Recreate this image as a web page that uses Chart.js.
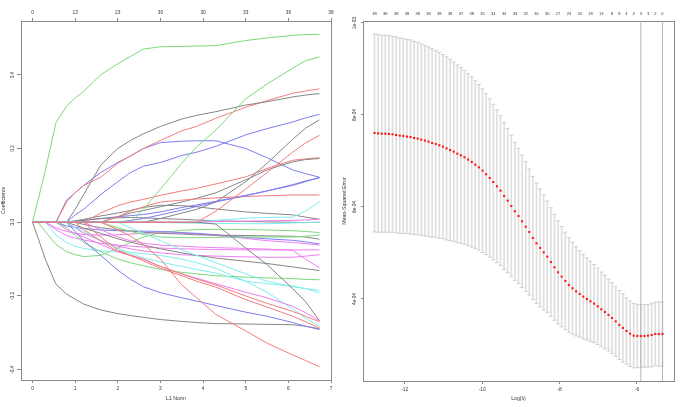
<!DOCTYPE html>
<html><head><meta charset="utf-8">
<script src="https://cdn.jsdelivr.net/npm/chart.js@4/dist/chart.umd.min.js"></script>
<style>
html,body{margin:0;padding:0;background:#fff;}
#wrap{position:relative;width:685px;height:407px;overflow:hidden;}
#c1{position:absolute;left:0;top:0;}
#c2{position:absolute;left:340px;top:0;}
</style></head><body>
<div id="wrap"><canvas id="c1" width="340" height="407"></canvas><canvas id="c2" width="345" height="407"></canvas></div>
<script>
// ---------- LEFT PANEL DATA: coefficient paths vs L1 norm ----------
const l1Norm = [0, 0.13, 0.3, 0.55, 0.8, 1.0, 1.2, 1.6, 2.0, 2.3, 2.6, 3.0, 3.5, 3.85, 4.3, 5.0, 5.5, 6.1, 6.4, 6.73];
const l1Ticks = [0, 1, 2, 3, 4, 5, 6, 7];
const dfTopLabels = ['0', '13', '23', '30', '30', '33', '36', '38'];
const coefTickValues = [-0.4, -0.2, 0, 0.2, 0.4];
const coefTickLabels = ['-0.4', '-0.2', '0.0', '0.2', '0.4'];
const pathColors = ['g','k','g','c','m','m','b','r','b','m','g','k','b','b','k','m','k','c','b','k','r','k','r','m','r','k','g','r','r','b','c','g','k','c','c','m','k','r'];
const coefPaths = [
 [0, 0.06, 0.14, 0.27, 0.315, 0.337, 0.355, 0.40, 0.43, 0.45, 0.47, 0.476, 0.477, 0.478, 0.479, 0.493, 0.50, 0.507, 0.509, 0.51],
 [0, -0.042, -0.1, -0.168, -0.195, -0.209, -0.222, -0.238, -0.248, -0.253, -0.258, -0.264, -0.269, -0.272, -0.275, -0.276, -0.277, -0.278, -0.282, -0.289],
 [0, 0, -0.025, -0.06, -0.08, -0.088, -0.093, -0.09, -0.07, -0.055, -0.04, -0.028, -0.022, -0.02, -0.019, -0.02, -0.021, -0.023, -0.025, -0.028],
 [0, 0, 0, -0.035, -0.055, -0.065, -0.071, -0.078, -0.079, -0.081, -0.085, -0.09, -0.1, -0.11, -0.125, -0.16, -0.19, -0.235, -0.26, -0.282],
 [0, 0, 0, -0.02, -0.036, -0.043, -0.048, -0.057, -0.062, -0.065, -0.067, -0.07, -0.072, -0.073, -0.074, -0.075, -0.075, -0.075, -0.075, -0.075],
 [0, 0, 0, -0.015, -0.025, -0.03, -0.033, -0.035, -0.034, -0.032, -0.03, -0.029, -0.03, -0.032, -0.036, -0.044, -0.05, -0.055, -0.058, -0.062],
 [0, 0, 0, 0, 0.06, 0.08, 0.1, 0.135, 0.162, 0.18, 0.2, 0.216, 0.22, 0.221, 0.221, 0.2, 0.175, 0.142, 0.132, 0.122],
 [0, 0, 0, 0, 0.055, 0.08, 0.1, 0.122, 0.16, 0.18, 0.2, 0.222, 0.248, 0.26, 0.282, 0.312, 0.33, 0.35, 0.356, 0.362],
 [0, 0, 0, 0, -0.01, -0.014, -0.017, -0.021, -0.023, -0.024, -0.024, -0.025, -0.028, -0.03, -0.034, -0.041, -0.045, -0.049, -0.053, -0.059],
 [0, 0, 0, 0, -0.02, -0.03, -0.04, -0.06, -0.08, -0.09, -0.1, -0.12, -0.14, -0.152, -0.167, -0.19, -0.205, -0.228, -0.245, -0.267],
 [0, 0, 0, 0, -0.015, -0.035, -0.055, -0.08, -0.1, -0.11, -0.118, -0.128, -0.136, -0.14, -0.145, -0.149, -0.151, -0.153, -0.155, -0.156],
 [0, 0, 0, 0, 0, 0.035, 0.075, 0.155, 0.2, 0.222, 0.24, 0.26, 0.28, 0.29, 0.3, 0.318, 0.327, 0.34, 0.345, 0.349],
 [0, 0, 0, 0, 0, 0.02, 0.035, 0.075, 0.11, 0.135, 0.152, 0.162, 0.181, 0.19, 0.206, 0.237, 0.254, 0.272, 0.283, 0.293],
 [0, 0, 0, 0, 0, 0.003, 0.005, 0.01, 0.015, 0.018, 0.021, 0.028, 0.04, 0.047, 0.057, 0.073, 0.085, 0.1, 0.11, 0.122],
 [0, 0, 0, 0, 0, 0.004, 0.008, 0.017, 0.025, 0.032, 0.04, 0.046, 0.045, 0.042, 0.036, 0.028, 0.024, 0.02, 0.014, 0.008],
 [0, 0, 0, 0, 0, -0.015, -0.03, -0.05, -0.065, -0.072, -0.078, -0.083, -0.088, -0.09, -0.092, -0.094, -0.095, -0.095, -0.092, -0.088],
 [0, 0, 0, 0, 0, -0.008, -0.016, -0.03, -0.045, -0.054, -0.062, -0.072, -0.083, -0.09, -0.097, -0.106, -0.112, -0.121, -0.126, -0.131],
 [0, 0, 0, 0, 0, -0.015, -0.025, -0.05, -0.07, -0.085, -0.097, -0.108, -0.12, -0.128, -0.138, -0.16, -0.167, -0.173, -0.18, -0.192],
 [0, 0, 0, 0, 0, -0.025, -0.05, -0.09, -0.13, -0.155, -0.175, -0.191, -0.205, -0.214, -0.226, -0.244, -0.255, -0.272, -0.282, -0.291],
 [0, 0, 0, 0, 0, 0, -0.006, -0.015, -0.02, -0.024, -0.027, -0.03, -0.032, -0.034, -0.035, -0.036, -0.037, -0.038, -0.04, -0.046],
 [0, 0, 0, 0, 0, 0, -0.02, -0.05, -0.08, -0.09, -0.1, -0.12, -0.14, -0.154, -0.17, -0.2, -0.22, -0.242, -0.255, -0.27],
 [0, 0, 0, 0, 0, 0, 0.005, 0.01, 0.012, 0.013, 0.012, 0.01, 0.008, 0.006, 0.004, 0.002, 0.001, 0, -0.001, 0],
 [0, 0, 0, 0, 0, 0, 0, 0.025, 0.045, 0.055, 0.062, 0.073, 0.085, 0.092, 0.104, 0.123, 0.146, 0.168, 0.172, 0.175],
 [0, 0, 0, 0, 0, 0, 0, -0.02, -0.04, -0.05, -0.057, -0.062, -0.065, -0.067, -0.069, -0.071, -0.073, -0.076, -0.1, -0.124],
 [0, 0, 0, 0, 0, 0, 0, -0.04, -0.075, -0.09, -0.105, -0.125, -0.145, -0.16, -0.176, -0.21, -0.23, -0.255, -0.27, -0.287],
 [0, 0, 0, 0, 0, 0, 0, 0, 0.015, 0.025, 0.032, 0.042, 0.055, 0.065, 0.08, 0.115, 0.142, 0.164, 0.17, 0.173],
 [0, 0, 0, 0, 0, 0, 0, 0, -0.015, -0.025, -0.033, -0.04, -0.042, -0.042, -0.041, -0.04, -0.04, -0.04, -0.038, -0.035],
 [0, 0, 0, 0, 0, 0, 0, 0, 0.015, 0.03, 0.042, 0.055, 0.06, 0.063, 0.066, 0.07, 0.072, 0.074, 0.074, 0.074],
 [0, 0, 0, 0, 0, 0, 0, 0, -0.02, -0.038, -0.06, -0.1, -0.17, -0.205, -0.25, -0.295, -0.328, -0.36, -0.375, -0.392],
 [0, 0, 0, 0, 0, 0, 0, 0, 0, 0.005, 0.01, 0.02, 0.033, 0.043, 0.055, 0.072, 0.085, 0.102, 0.112, 0.12],
 [0, 0, 0, 0, 0, 0, 0, 0, 0, -0.015, -0.03, -0.05, -0.075, -0.09, -0.11, -0.14, -0.16, -0.175, -0.18, -0.185],
 [0, 0, 0, 0, 0, 0, 0, 0, 0, 0, 0.035, 0.09, 0.16, 0.205, 0.25, 0.335, 0.375, 0.418, 0.438, 0.449],
 [0, 0, 0, 0, 0, 0, 0, 0, 0, 0, 0, 0.01, 0.025, 0.035, 0.055, 0.11, 0.16, 0.225, 0.255, 0.278],
 [0, 0, 0, 0, 0, 0, 0, 0, 0, 0, 0, 0, -0.002, -0.003, -0.003, -0.004, -0.004, -0.002, -0.001, 0],
 [0, 0, 0, 0, 0, 0, 0, 0, 0, 0, 0, 0, 0, 0, 0.005, 0.011, 0.013, 0.014, 0.03, 0.056],
 [0, 0, 0, 0, 0, 0, 0, 0, 0, 0, 0, 0, 0, 0, 0.002, 0.003, 0.004, 0.005, 0.006, 0.008],
 [0, 0, 0, 0, 0, 0, 0, 0, 0, 0, 0, 0, 0, 0, -0.005, -0.07, -0.115, -0.18, -0.215, -0.267],
 [0, 0, 0, 0, 0, 0, 0, 0, 0, 0, 0, 0, 0, 0, 0.03, 0.09, 0.135, 0.19, 0.215, 0.236]
];

// ---------- RIGHT PANEL DATA: cross-validation curve ----------
const logLambda = [
 -12.780, -12.687, -12.594, -12.501, -12.408, -12.315, -12.222, -12.129, -12.036, -11.943,
 -11.850, -11.757, -11.664, -11.571, -11.478, -11.385, -11.292, -11.199, -11.106, -11.013,
 -10.920, -10.827, -10.734, -10.641, -10.548, -10.455, -10.362, -10.269, -10.176, -10.083,
 -9.990, -9.897, -9.804, -9.711, -9.618, -9.525, -9.432, -9.339, -9.246, -9.153,
 -9.060, -8.967, -8.874, -8.781, -8.688, -8.595, -8.502, -8.409, -8.316, -8.223,
 -8.130, -8.037, -7.944, -7.851, -7.758, -7.665, -7.572, -7.479, -7.386, -7.293,
 -7.200, -7.107, -7.014, -6.921, -6.828, -6.735, -6.642, -6.549, -6.456, -6.363,
 -6.270, -6.177, -6.084, -5.991, -5.898, -5.805, -5.712, -5.619, -5.526, -5.433, -5.340];
// mean CV error (units of 1e-4)
const cvMeanE4 = [
 7.609, 7.601, 7.594, 7.594, 7.587, 7.580, 7.565, 7.551, 7.543, 7.529,
 7.522, 7.500, 7.486, 7.464, 7.442, 7.420, 7.391, 7.370, 7.341, 7.312,
 7.275, 7.239, 7.203, 7.159, 7.123, 7.080, 7.029, 6.978, 6.920, 6.862,
 6.790, 6.712, 6.630, 6.543, 6.449, 6.355, 6.239, 6.138, 6.022, 5.906,
 5.804, 5.688, 5.572, 5.457, 5.326, 5.210, 5.109, 5.014, 4.920, 4.804,
 4.688, 4.580, 4.486, 4.391, 4.304, 4.232, 4.167, 4.109, 4.051, 4.000,
 3.949, 3.899, 3.841, 3.775, 3.717, 3.652, 3.587, 3.514, 3.435, 3.370,
 3.304, 3.246, 3.203, 3.196, 3.196, 3.196, 3.203, 3.217, 3.239, 3.239, 3.239];
// CV standard error (units of 1e-4)
const cvSdE4 = [
 2.15, 2.15, 2.14, 2.14, 2.14, 2.13, 2.13, 2.12, 2.12, 2.11,
 2.11, 2.10, 2.09, 2.08, 2.07, 2.06, 2.05, 2.03, 2.02, 2.00,
 1.99, 1.97, 1.95, 1.93, 1.91, 1.89, 1.87, 1.85, 1.82, 1.80,
 1.78, 1.75, 1.72, 1.69, 1.66, 1.63, 1.60, 1.57, 1.54, 1.50,
 1.47, 1.44, 1.41, 1.37, 1.34, 1.31, 1.28, 1.25, 1.21, 1.18,
 1.15, 1.12, 1.09, 1.06, 1.03, 1.00, 0.97, 0.94, 0.92, 0.89,
 0.87, 0.85, 0.83, 0.81, 0.80, 0.78, 0.77, 0.76, 0.75, 0.74,
 0.72, 0.71, 0.70, 0.69, 0.68, 0.68, 0.68, 0.69, 0.69, 0.70, 0.70];
const nzLabelIdx = [0,3,6,9,12,15,18,21,24,27,30,33,36,39,42,45,48,51,54,57,60,63,66,68,70,72,74,76,78,80];
const nzLabels = ['38','38','38','38','38','38','38','38','37','38','35','34','34','33','32','30','30','27','23','20','18','13','8','8','4','4','3','3','2','0'];
const lambdaMinIdx = 74;
const lambda1seIdx = 80;
const logLambdaTicks = [-12, -10, -8, -6];
const mseTickValues = [4e-4, 6e-4, 8e-4, 1e-3];
const mseTickLabels = ['4e-04', '6e-04', '8e-04', '1e-03'];

// ---------- STYLE ----------
Chart.defaults.font.family = "'Liberation Sans', Arial, sans-serif";
Chart.defaults.color = '#333';
const BOX = '#8a8a8a';
const COLORS = {k:'#858585', r:'#f47c7c', g:'#7cd97c', b:'#7c7cf2', c:'#7eeeee', m:'#f07cf0'};
const tickFont = {size: 4.8};
const titleFont = {size: 5.2};
const common = {responsive:false, animation:false, devicePixelRatio:1, events:[],
  plugins:{legend:{display:false}, tooltip:{enabled:false}}, layout:{padding:0}};

function boxAxis(pos, min, max, size) {
  return {type:'linear', position:pos, min, max, display:true,
    afterFit: s => { if (pos==='left'||pos==='right') s.width = size; else s.height = size; },
    ticks:{display:false}, grid:{display:false, drawTicks:false}, border:{display:true, color:BOX, width:1}};
}

// ---------- LEFT CHART ----------
const xMinL = -0.269, xMaxL = 6.999, yMinL = -0.428, yMaxL = 0.546;
new Chart(document.getElementById('c1'), {
  type:'line',
  data:{datasets: coefPaths.map((p, i) => ({
    data: p.map((v, j) => ({x: l1Norm[j], y: v})),
    borderColor: COLORS[pathColors[i]], borderWidth: 1, pointRadius: 0, tension: 0, fill: false,
    order: coefPaths.length - i, xAxisID:'x', yAxisID:'y'}))},
  options: Object.assign({}, common, {
    scales:{
      x:{type:'linear', position:'bottom', min:xMinL, max:xMaxL,
        afterBuildTicks: s => { s.ticks = l1Ticks.map(v => ({value:v})); },
        afterFit: s => { s.height = 27; },
        ticks:{font:tickFont, padding:3, maxRotation:0, minRotation:0, autoSkip:false, callback:(v,i)=>String(l1Ticks[i])},
        grid:{display:true, drawOnChartArea:false, drawTicks:true, tickLength:3, color:BOX},
        border:{display:true, color:BOX},
        title:{display:true, text:'L1 Norm', font:titleFont, padding:{top:0, bottom:5}}},
      xTop:{type:'linear', position:'top', min:xMinL, max:xMaxL, display:true,
        afterBuildTicks: s => { s.ticks = l1Ticks.map(v => ({value:v})); },
        afterFit: s => { s.height = 21; },
        ticks:{font:tickFont, padding:2, maxRotation:0, minRotation:0, autoSkip:false, callback:(v,i)=>dfTopLabels[i]},
        grid:{display:true, drawOnChartArea:false, drawTicks:true, tickLength:3, color:BOX},
        border:{display:true, color:BOX}},
      y:{type:'linear', position:'left', min:yMinL, max:yMaxL,
        afterBuildTicks: s => { s.ticks = coefTickValues.map(v => ({value:v})); },
        afterFit: s => { s.width = 21; },
        ticks:{font:tickFont, padding:0, minRotation:90, maxRotation:90, crossAlign:'center', autoSkip:false, callback:(v,i)=>coefTickLabels[i]},
        grid:{display:true, drawOnChartArea:false, drawTicks:true, tickLength:4, color:BOX},
        border:{display:true, color:BOX},
        title:{display:true, text:'Coefficients', font:titleFont, padding:{top:0, bottom:0}}},
      yR: boxAxis('right', yMinL, yMaxL, 9)
    }
  })
});

// ---------- RIGHT CHART ----------
const cvm = cvMeanE4.map(v => v * 1e-4);
const cvsd = cvSdE4.map(v => v * 1e-4);
const cvUp = cvm.map((v, i) => v + cvsd[i]);
const cvLo = cvm.map((v, i) => v - cvsd[i]);
const xMinR = -13.078, xMaxR = -5.042, yMinR = 2.217e-4, yMaxR = 10.043e-4;
new Chart(document.getElementById('c2'), {
  type:'line',
  data:{datasets:[
    {type:'line', data: logLambda.map((x, i) => ({x, y: cvm[i]})), showLine:false,
     pointStyle:'rect', pointRadius:1.5, pointBackgroundColor:'#ff1a1a', pointBorderWidth:0, order:0},
    {type:'line', data:[{x:logLambda[lambdaMinIdx], y:yMinR}, {x:logLambda[lambdaMinIdx], y:yMaxR}],
     borderColor:'#b4b4b4', borderWidth:1, pointRadius:0, order:1},
    {type:'line', data:[{x:logLambda[lambda1seIdx], y:yMinR}, {x:logLambda[lambda1seIdx], y:yMaxR}],
     borderColor:'#b4b4b4', borderWidth:1, pointRadius:0, order:1},
    {type:'line', data: logLambda.map((x, i) => ({x, y: cvUp[i]})).concat(logLambda.map((x, i) => ({x, y: cvLo[i]}))),
     showLine:false, pointStyle:'line', pointRadius:2, pointBorderColor:'#d0d0d0', pointBorderWidth:1, order:2},
    {type:'bar', data: logLambda.map((x, i) => ({x, y:[cvLo[i], cvUp[i]]})),
     barThickness:1, backgroundColor:'#dedede', borderWidth:0, grouped:false, order:3}
  ]},
  options: Object.assign({}, common, {
    scales:{
      x:{type:'linear', position:'bottom', min:xMinR, max:xMaxR, offset:false,
        afterBuildTicks: s => { s.ticks = logLambdaTicks.map(v => ({value:v})); },
        afterFit: s => { s.height = 26; },
        ticks:{font:tickFont, padding:2.5, maxRotation:0, minRotation:0, autoSkip:false, callback:(v,i)=>String(logLambdaTicks[i])},
        grid:{display:true, offset:false, drawOnChartArea:false, drawTicks:true, tickLength:3, color:BOX},
        border:{display:true, color:BOX},
        title:{display:true, text:'Log(λ)', font:titleFont, padding:{top:0, bottom:5.5}}},
      xTop:{type:'linear', position:'top', min:xMinR, max:xMaxR, display:true,
        afterBuildTicks: s => { s.ticks = nzLabelIdx.map(i => ({value:logLambda[i]})); },
        afterFit: s => { s.height = 21; },
        ticks:{font:{size:4}, padding:4.5, maxRotation:0, minRotation:0, autoSkip:false, callback:(v,i)=>nzLabels[i]},
        grid:{display:false, drawTicks:false},
        border:{display:true, color:BOX}},
      y:{type:'linear', position:'left', min:yMinR, max:yMaxR,
        afterBuildTicks: s => { s.ticks = mseTickValues.map(v => ({value:v})); },
        afterFit: s => { s.width = 23; },
        ticks:{font:tickFont, padding:0, minRotation:90, maxRotation:90, crossAlign:'center', autoSkip:false, callback:(v,i)=>mseTickLabels[i]},
        grid:{display:true, drawOnChartArea:false, drawTicks:true, tickLength:2, color:BOX},
        border:{display:true, color:BOX},
        title:{display:true, text:'Mean-Squared Error', font:titleFont, padding:{top:1.5, bottom:0}}},
      yR: boxAxis('right', yMinR, yMaxR, 11)
    }
  })
});
</script>
</body></html>
